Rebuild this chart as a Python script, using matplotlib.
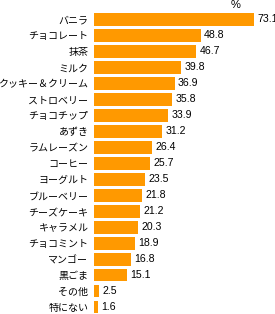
import matplotlib
matplotlib.use("Agg")
import matplotlib.pyplot as plt

plt.rcParams['font.family'] = ['Noto Sans CJK JP', 'DejaVu Sans']

labels = ["バニラ", "チョコレート", "抹茶", "ミルク", "クッキー＆クリーム", "ストロベリー",
          "チョコチップ", "あずき", "ラムレーズン", "コーヒー", "ヨーグルト", "ブルーベリー",
          "チーズケーキ", "キャラメル", "チョコミント", "マンゴー", "黒ごま", "その他", "特にない"]
values = [73.1, 48.8, 46.7, 39.8, 36.9, 35.8, 33.9, 31.2, 26.4, 25.7, 23.5, 21.8,
          21.2, 20.3, 18.9, 16.8, 15.1, 2.5, 1.6]

fig = plt.figure(figsize=(2.75, 3.14), dpi=100)
ax = fig.add_axes([94 / 275, 0, 181 / 275, 302.5 / 314])

ypos = list(range(len(values)))
ax.barh(ypos, values, height=0.81, color='#FF9900')
ax.set_xlim(0, 181 / 2.189)
ax.set_ylim(18.44, -0.5)

# value labels just right of each bar
for y, v in zip(ypos, values):
    ax.text(v + 1.5, y, "%.1f" % v, va='center', ha='left', fontsize=7.6,
            family=['Liberation Sans', 'DejaVu Sans'])

ax.set_yticks(ypos)
ax.set_yticklabels(labels, fontsize=7.2)
ax.tick_params(axis='y', length=0, pad=4)
ax.set_xticks([])
for s in ax.spines.values():
    s.set_visible(False)

fig.text(236 / 275, 1 - 5 / 314, "%", ha='center', va='center', fontsize=8,
         family=['Liberation Sans', 'DejaVu Sans'])

fig.savefig("out.png", dpi=100)
